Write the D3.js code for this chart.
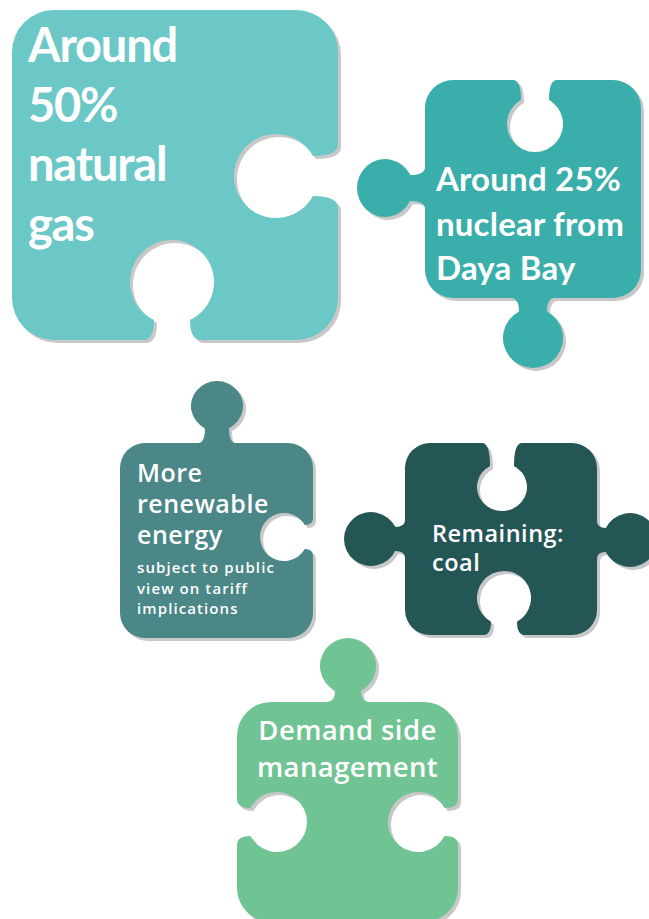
<!DOCTYPE html>
<html>
<head>
<meta charset="utf-8">
<script src="https://cdn.jsdelivr.net/npm/d3@7"></script>
<style>
  html, body { margin: 0; padding: 0; background: #ffffff; }
  svg { display: block; }
</style>
</head>
<body>
<div id="chart"></div>
<script>
// ---- data ----
const categories = ["Natural gas", "Nuclear (Daya Bay)", "Renewable energy", "Coal", "Demand side management"];
const headLines = [
  ["Around", "50%", "natural", "gas"],
  ["Around 25%", "nuclear from", "Daya Bay"],
  ["More", "renewable", "energy"],
  ["Remaining:", "coal"],
  ["Demand side", "management"]
];
const subLines = [
  [],
  [],
  ["subject to public", "view on tariff", "implications"],
  [],
  []
];
const colors = ["#6cc8c6", "#3aaeaa", "#4a8786", "#245655", "#70c493"];

// ---- layout (positions / geometry) ----
const layout = [
  { body: [12, 10, 338, 340], r: 42, knobs: [
      { side: "right", type: "in", c: 176, d: 62, ra: 42, rn: 42, n: 20, s: 12 },
      { side: "bottom", type: "in", c: 172, d: 58, ra: 42, rn: 42, n: 18, s: 11 } ],
    text: { x: 28, y: 62, size: 47, lh: 59.5, font: "'Lato'", weight: 700, ls: -1.2, anchor: "start" } },
  { body: [425, 80, 641, 298], r: 28, knobs: [
      { side: "top", type: "in", c: 535, d: 44, ra: 28, rn: 28, n: 14, s: 8 },
      { side: "left", type: "out", c: 188, d: 40, ra: 29, rn: 28, n: 13, s: 8 },
      { side: "bottom", type: "out", c: 533, d: 40, ra: 30, rn: 30, n: 14, s: 8 } ],
    text: { x: 436, y: 191, size: 33, lh: 44.5, font: "'Lato'", weight: 700, ls: 0.2, anchor: "start" } },
  { body: [120, 443, 313, 638], r: 25, knobs: [
      { side: "top", type: "out", c: 217, d: 37, ra: 26, rn: 25, n: 12, s: 7 },
      { side: "right", type: "in", c: 537, d: 29, ra: 24, rn: 24, n: 12, s: 7 } ],
    text: { x: 137, y: 482, size: 25, lh: 31, font: "'Open Sans'", weight: 600, ls: 0.5, anchor: "start",
            sub: { y: 573, size: 15, lh: 20.5, weight: 600, ls: 1.1 } } },
  { body: [405, 443, 597, 635], r: 25, knobs: [
      { side: "top", type: "in", c: 502, d: 44, ra: 25, rn: 24, n: 12, s: 8 },
      { side: "bottom", type: "in", c: 504, d: 37, ra: 27, rn: 27, n: 13, s: 8 },
      { side: "left", type: "out", c: 539, d: 34, ra: 27, rn: 27, n: 12, s: 7 },
      { side: "right", type: "out", c: 540, d: 33, ra: 27, rn: 27, n: 12, s: 7 } ],
    text: { x: 432, y: 542, size: 23.5, lh: 29, font: "'Open Sans'", weight: 600, ls: 0.5, anchor: "start" } },
  { body: [237, 702, 458, 922], r: 34, knobs: [
      { side: "top", type: "out", c: 348, d: 36, ra: 28, rn: 28, n: 13, s: 8 },
      { side: "left", type: "in", c: 822, d: 40, ra: 30, rn: 30, n: 14, s: 9 },
      { side: "right", type: "in", c: 822, d: 40, ra: 30, rn: 30, n: 14, s: 9 } ],
    text: { x: 347.5, y: 740, size: 27.5, lh: 37, font: "'Open Sans'", weight: 600, ls: 0.4, anchor: "middle" } }
];

const W = 649, H = 919;
const svg = d3.select("#chart").append("svg").attr("width", W).attr("height", H);

function piecePath(L) {
  const [x0, y0, x1, y1] = L.body, r = L.r;
  const p = d3.path();
  const frames = {
    top:    { pt: (t, u) => [t, y0 - u], dir: 1 },
    right:  { pt: (t, u) => [x1 + u, t], dir: 1 },
    bottom: { pt: (t, u) => [t, y1 + u], dir: -1 },
    left:   { pt: (t, u) => [x0 - u, t], dir: -1 }
  };
  function side(name) {
    const f = frames[name];
    L.knobs.filter(k => k.side === name).forEach(k => {
      const sg = k.type === "out" ? 1 : -1;
      const dt = f.dir;
      const a = k.c - dt * (k.n + k.s), b = k.c - dt * k.n;
      const b2 = k.c + dt * k.n, a2 = k.c + dt * (k.n + k.s);
      const h = k.d - k.rn * Math.sqrt(1 - (k.n / k.ra) ** 2);
      p.lineTo(...f.pt(a, 0));
      p.quadraticCurveTo(...f.pt(b, 0), ...f.pt(b, sg * h));
      const end = f.pt(b2, sg * h);
      const horiz = (name === "top" || name === "bottom");
      const rx = horiz ? k.ra : k.rn, ry = horiz ? k.rn : k.ra;
      p._ += `A${rx},${ry},0,1,${sg > 0 ? 1 : 0},${end[0]},${end[1]}`;
      p._x1 = end[0]; p._y1 = end[1];
      p.quadraticCurveTo(...f.pt(b2, 0), ...f.pt(a2, 0));
    });
  }
  p.moveTo(x0 + r, y0);
  side("top");
  p.lineTo(x1 - r, y0);
  p.arcTo(x1, y0, x1, y0 + r, r);
  side("right");
  p.lineTo(x1, y1 - r);
  p.arcTo(x1, y1, x1 - r, y1, r);
  side("bottom");
  p.lineTo(x0 + r, y1);
  p.arcTo(x0, y1, x0, y1 - r, r);
  side("left");
  p.lineTo(x0, y0 + r);
  p.arcTo(x0, y0, x0 + r, y0, r);
  p.closePath();
  return p.toString();
}

const pieces = svg.selectAll("g.piece")
  .data(categories.map((c, i) => ({ name: c, color: colors[i], L: layout[i], head: headLines[i], sub: subLines[i] })))
  .join("g").attr("class", "piece");

pieces.append("path")
  .attr("d", d => piecePath(d.L))
  .attr("transform", "translate(3,3)")
  .attr("fill", "#c8c8c8");

pieces.append("path")
  .attr("d", d => piecePath(d.L))
  .attr("fill", d => d.color);

pieces.each(function(d) {
  const g = d3.select(this), T = d.L.text;
  g.selectAll("text.head").data(d.head).join("text")
    .attr("class", "head")
    .attr("x", T.x)
    .attr("y", (s, j) => T.y + j * T.lh)
    .attr("text-anchor", T.anchor)
    .attr("fill", "#ffffff")
    .style("font-family", `${T.font}, sans-serif`)
    .style("font-weight", T.weight)
    .style("font-size", T.size + "px")
    .style("letter-spacing", T.ls + "px")
    .text(s => s);
  if (T.sub) {
    g.selectAll("text.sub").data(d.sub).join("text")
      .attr("class", "sub")
      .attr("x", T.x)
      .attr("y", (s, j) => T.sub.y + j * T.sub.lh)
      .attr("fill", "#ffffff")
      .style("font-family", `${T.font}, sans-serif`)
      .style("font-weight", T.sub.weight)
      .style("font-size", T.sub.size + "px")
      .style("letter-spacing", T.sub.ls + "px")
      .text(s => s);
  }
});
</script>
</body>
</html>
